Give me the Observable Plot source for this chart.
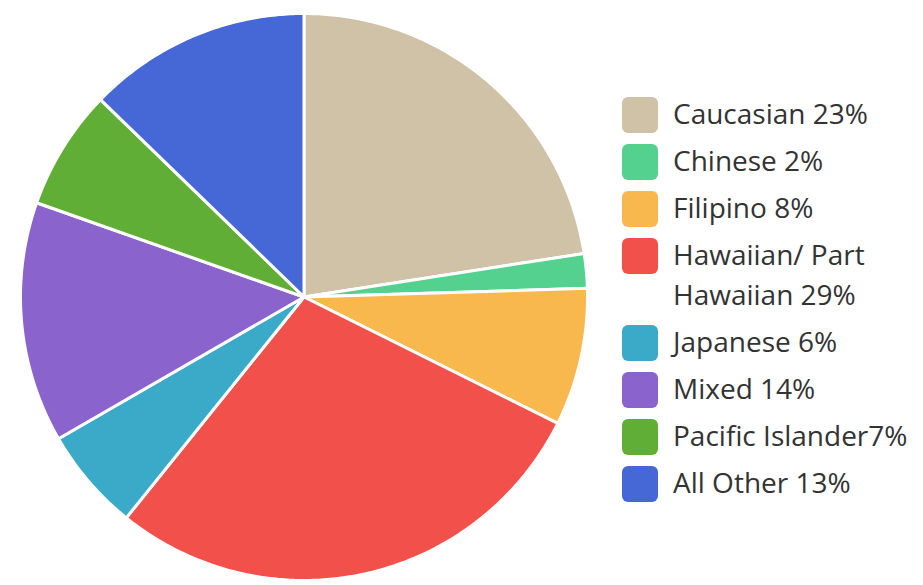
<!DOCTYPE html>
<html>
<head>
<meta charset="utf-8">
<script src="https://cdn.jsdelivr.net/npm/d3@7"></script>
<script src="https://cdn.jsdelivr.net/npm/@observablehq/plot@0.6"></script>
<style>
  body { margin: 0; background: #fff; font-family: "Open Sans", sans-serif; }
  #wrap { position: relative; width: 923px; height: 585px; overflow: hidden; }
  #chart { position: absolute; left: 0; top: 0; }
  #legend { position: absolute; left: 622px; top: 93px; }
  .item { position: relative; padding-left: 51px; font-size: 28px; color: #333; line-height: 40px; width: 250px; margin-bottom: 7px; }
  .sw { position: absolute; left: 0; top: 4px; width: 36px; height: 36px; border-radius: 6px; }
</style>
</head>
<body>
<div id="wrap"><div id="chart"></div><div id="legend"></div></div>
<script>
const categories = ["Caucasian", "Chinese", "Filipino", "Hawaiian/ Part Hawaiian", "Japanese", "Mixed", "Pacific Islander", "All Other"];
const values = [23, 2, 8, 29, 6, 14, 7, 13];
const labels = ["Caucasian 23%", "Chinese 2%", "Filipino 8%", "Hawaiian/ Part Hawaiian 29%", "Japanese 6%", "Mixed 14%", "Pacific Islander7%", "All Other 13%"];
const colors = ["#D0C2A6", "#55D18F", "#F8B84E", "#F2514B", "#3BAAC9", "#8A63CC", "#61AE36", "#4668D6"];

// slice outlines computed from the values with d3.pie
const arcs = d3.pie().sort(null).startAngle(0).endAngle(2 * Math.PI)(values);
const pts = [];
arcs.forEach((a, i) => {
  const name = categories[i];
  pts.push({name, x: 0, y: 0});
  const n = Math.max(4, Math.ceil((a.endAngle - a.startAngle) / 0.01));
  for (let k = 0; k <= n; k++) {
    const t = a.startAngle + (a.endAngle - a.startAngle) * k / n;
    pts.push({name, x: Math.sin(t), y: Math.cos(t)});
  }
  pts.push({name, x: 0, y: 0});
});

const chart = Plot.plot({
  width: 610,
  height: 585,
  margin: 0,
  x: {domain: [-1, 1], range: [20, 587], axis: null},
  y: {domain: [-1, 1], range: [580, 13], axis: null},
  color: {domain: categories, range: colors},
  marks: [
    Plot.line(pts, {x: "x", y: "y", z: "name", fill: "name", stroke: "white", strokeWidth: 3, strokeLinejoin: "round", curve: "linear"})
  ]
});
document.getElementById("chart").appendChild(chart);

const legend = document.getElementById("legend");
categories.forEach((c, i) => {
  const d = document.createElement("div");
  d.className = "item";
  const s = document.createElement("span");
  s.className = "sw";
  s.style.background = colors[i];
  d.appendChild(s);
  d.appendChild(document.createTextNode(labels[i]));
  legend.appendChild(d);
});
</script>
</body>
</html>
